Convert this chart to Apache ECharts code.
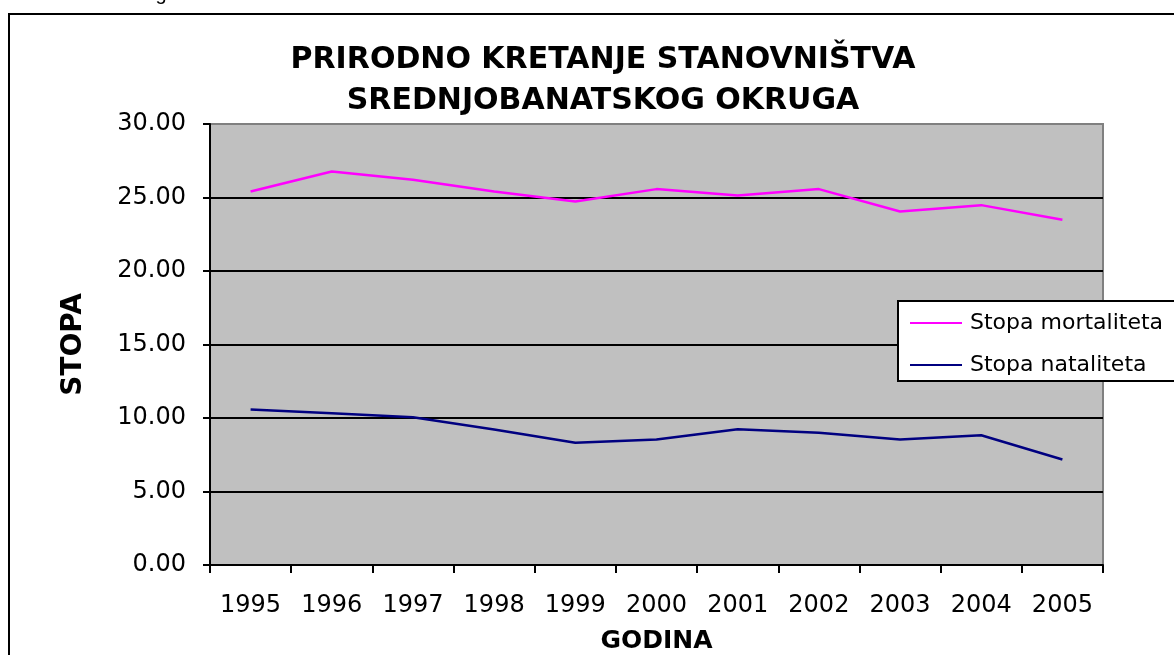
<!DOCTYPE html>
<html>
<head>
<meta charset="utf-8">
<script src="https://cdn.jsdelivr.net/npm/echarts@6/dist/echarts.min.js"></script>
<style>html,body{margin:0;padding:0;background:#fff;}#c{width:1174px;height:655px;}</style>
</head>
<body>
<div id="c"></div>
<script>
var years = ['1995','1996','1997','1998','1999','2000','2001','2002','2003','2004','2005'];
var mortalitet = [25.41, 26.77, 26.20, 25.41, 24.73, 25.57, 25.14, 25.57, 24.05, 24.48, 23.49];
var natalitet = [10.58, 10.33, 10.05, 9.22, 8.31, 8.54, 9.24, 8.99, 8.54, 8.83, 7.18];
var yTicks = {min: 0, max: 30, interval: 5};

var chart = echarts.init(document.getElementById('c'));
var numFont = 'DejaVu Sans';
chart.setOption({
  animation: false,
  backgroundColor: '#ffffff',
  title: {
    text: 'PRIRODNO KRETANJE STANOVNIŠTVA\nSREDNJOBANATSKOG OKRUGA',
    left: 598, top: 35, textAlign: 'center',
    textStyle: {fontFamily: 'DejaVu Sans', fontWeight: 'bold', fontSize: 30, lineHeight: 41, color: '#000'}
  },
  graphic: [
    {type: 'rect', shape: {x: 9, y: 14, width: 1300, height: 800}, style: {fill: 'none', stroke: '#000', lineWidth: 2}, z: 100},
    {type: 'text', x: 161, y: 4, style: {text: 'g', fontFamily: 'Liberation Sans', fontSize: 20, fill: '#000', align: 'center', verticalAlign: 'bottom'}}
  ],
  grid: {left: 210, right: 71, top: 124, bottom: 90, show: true, outerBoundsMode: 'none', containLabel: false,
    backgroundColor: '#C0C0C0', borderColor: '#808080', borderWidth: 2},
  legend: {
    orient: 'vertical', left: 898, top: 301,
    backgroundColor: '#ffffff', borderColor: '#000', borderWidth: 2,
    padding: [9, 14, 3, 12], itemGap: 16, itemWidth: 52, itemHeight: 2,
    icon: 'rect',
    textStyle: {fontFamily: numFont, fontSize: 22, lineHeight: 26, color: '#000', padding: [0, 0, 0, 3]},
    data: ['Stopa mortaliteta', 'Stopa nataliteta']
  },
  xAxis: {
    type: 'category', data: years, boundaryGap: true,
    name: 'GODINA', nameLocation: 'middle', nameGap: 64,
    nameTextStyle: {fontFamily: 'DejaVu Sans', fontWeight: 'bold', fontSize: 25, color: '#000'},
    axisLine: {lineStyle: {color: '#000', width: 2}},
    axisTick: {show: true, alignWithLabel: false, length: 8, lineStyle: {color: '#000', width: 2}},
    axisLabel: {fontFamily: numFont, fontSize: 24, color: '#000', margin: 29, interval: 0},
    splitLine: {show: false}
  },
  yAxis: {
    type: 'value', min: yTicks.min, max: yTicks.max, interval: yTicks.interval,
    name: 'STOPA', nameLocation: 'middle', nameGap: 122, nameRotate: 90,
    nameTextStyle: {fontFamily: 'DejaVu Sans', fontWeight: 'bold', fontSize: 28, color: '#000'},
    axisLine: {show: true, lineStyle: {color: '#000', width: 2}},
    axisTick: {show: true, length: 7, lineStyle: {color: '#000', width: 2}},
    axisLabel: {fontFamily: numFont, fontSize: 24, color: '#000', margin: 24, formatter: function (v) { return v.toFixed(2); }},
    splitLine: {show: true, lineStyle: {color: ['#000','#000','#000','#000','#000','#000','#808080'], width: 2}}
  },
  series: [
    {name: 'Stopa mortaliteta', type: 'line', data: mortalitet, symbol: 'none', lineStyle: {color: '#FF00FF', width: 2.5}, itemStyle: {color: '#FF00FF'}},
    {name: 'Stopa nataliteta', type: 'line', data: natalitet, symbol: 'none', lineStyle: {color: '#000080', width: 2.5}, itemStyle: {color: '#000080'}}
  ]
});
</script>
</body>
</html>
